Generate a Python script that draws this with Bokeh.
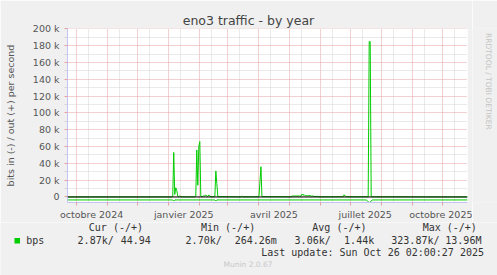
import math
import datetime as dt
from bokeh.plotting import figure
from bokeh.layouts import column, row
from bokeh.models import FixedTicker, Span, Range1d
from bokeh.core.properties import value
from bokeh.embed import file_html
from bokeh.resources import INLINE

# ---------------- data ----------------
out_dates = ["2024-09-22", "2025-01-04", "2025-01-05", "2025-01-06", "2025-01-07",
             "2025-01-08", "2025-01-09", "2025-01-10", "2025-01-11", "2025-01-12",
             "2025-01-13", "2025-01-27", "2025-01-28", "2025-01-29", "2025-01-30",
             "2025-01-31", "2025-02-01", "2025-02-02", "2025-02-03", "2025-02-05",
             "2025-02-06", "2025-02-07", "2025-02-08", "2025-02-09", "2025-02-10",
             "2025-02-11", "2025-02-13", "2025-02-16", "2025-02-17", "2025-02-18",
             "2025-02-19", "2025-03-14", "2025-03-15", "2025-03-16", "2025-04-01",
             "2025-04-03", "2025-04-04", "2025-05-03", "2025-05-04", "2025-05-11",
             "2025-05-13", "2025-05-14", "2025-05-15", "2025-05-16", "2025-05-17",
             "2025-05-19", "2025-05-20", "2025-05-21", "2025-05-23", "2025-05-25",
             "2025-05-27", "2025-05-29", "2025-05-30", "2025-06-24", "2025-06-25",
             "2025-06-26", "2025-06-27", "2025-07-19", "2025-07-20", "2025-07-21",
             "2025-07-22", "2025-10-26"]
out_kbps = [0.05, 0.1, 0.5, 53, 3,
            11, 8, 1, 0.3, 1.5,
            0.2, 0.2, 1, 56, 14,
            60, 66, 1, 0.3, 1.5,
            1.5, 2.5, 1, 0.8, 2.5,
            1, 0.2, 0.5, 31, 16,
            0.5, 0.2, 1.2, 0.2, 0.3,
            36, 0.5, 0.3, 1.2, 1.2,
            1.0, 3.5, 2.0, 3.0, 1.5,
            1.5, 1.2, 2.0, 1.0, 1.2,
            0.3, 1.0, 0.3, 0.3, 2.7,
            1.2, 0.3, 0.3, 185, 185,
            0.3, 0.05]

in_dates = ["2024-09-22", "2025-01-05", "2025-01-06", "2025-01-07", "2025-02-16",
            "2025-02-17", "2025-02-18", "2025-07-17", "2025-07-20", "2025-07-21",
            "2025-07-23", "2025-10-26"]
in_kbps = [3.5, 3.5, 4.8, 3.5, 3.5,
           4.8, 3.5, 3.5, 6.6, 6.2,
           3.5, 3.5]

y_tick_values = [0, 20000, 40000, 60000, 80000, 100000, 120000, 140000, 160000, 180000, 200000]
y_tick_labels = ["0", "20 k", "40 k", "60 k", "80 k", "100 k", "120 k", "140 k", "160 k", "180 k", "200 k"]

x_label_dates = ["2024-10-16", "2025-01-16", "2025-04-16", "2025-07-16", "2025-10-16"]
x_labels = ["octobre 2024", "janvier 2025", "avril 2025", "juillet 2025", "octobre 2025"]

series_name = "bps"
legend_headers = ["Cur (-/+)", "Min (-/+)", "Avg (-/+)", "Max (-/+)"]
# each stat cell: (in part, out part)
legend_in = ["2.87k/", "2.70k/", "3.06k/", "323.87k/"]
legend_out = ["44.94", "264.26m", "1.44k", "13.96M"]
last_update = "Last update: Sun Oct 26 02:00:27 2025"
title_text = "eno3 traffic - by year"
y_label = "bits in (-) / out (+) per second"
side_text = "RRDTOOL / TOBI OETIKER"
footer_text = "Munin 2.0.67"

# ---------------- helpers ----------------
EPOCH = dt.datetime(1970, 1, 1)


def to_dt(s):
    return dt.datetime.fromisoformat(s)


def to_ms(d):
    return (d - EPOCH).total_seconds() * 1000.0


x_start = dt.datetime(2024, 9, 22, 0, 0)
x_end = dt.datetime(2025, 10, 26, 2, 0)

month_starts = []
mid_lines = []
yy, mm = 2024, 10
while (yy, mm) <= (2025, 10):
    month_starts.append(to_ms(dt.datetime(yy, mm, 1)))
    mid_lines.append(to_ms(dt.datetime(yy, mm, 13)))
    mm += 1
    if mm > 12:
        mm = 1
        yy += 1

label_ms = [to_ms(to_dt(s)) for s in x_label_dates]

BG = "#f0f0f0"
GREEN = "#00cc00"
LAV = "#c4c4f4"
RED_GRID = "#e4a0a0"
GRAY_GRID = "#d4d4d4"
TXT = "#555555"

MAIN_H = 222

# ---------------- main chart ----------------
p = figure(width=472, height=MAIN_H, x_axis_type="datetime", output_backend="svg",
           toolbar_location=None, title=title_text,
           x_range=Range1d(x_start, x_end), y_range=Range1d(-6548, 200595),
           min_border_left=67, min_border_right=5, min_border_top=28,
           min_border_bottom=MAIN_H - 202)
p.border_fill_color = BG
p.background_fill_color = "white"
p.outline_line_color = None

p.title.align = "left"
p.title.offset = 115.2
p.title.standoff = 1
p.title.vertical_align = "bottom"
p.title.text_font = "DejaVu Sans"
p.title.text_font_size = "12.5px"
p.title.text_font_style = "normal"
p.title.text_color = "#444444"

# y axis
yax = p.yaxis[0]
y_minor = [(a + b) / 2 for a, b in zip(y_tick_values[:-1], y_tick_values[1:])]
yax.ticker = FixedTicker(ticks=y_tick_values, minor_ticks=y_minor)
yax.major_label_overrides = dict(zip(y_tick_values, y_tick_labels))
yax.major_label_text_font = "DejaVu Sans"
yax.major_label_text_font_size = "9.5px"
yax.major_label_text_color = TXT
yax.major_label_standoff = 5
yax.axis_line_color = LAV
yax.major_tick_line_color = RED_GRID
yax.major_tick_out = 3
yax.major_tick_in = 0
yax.minor_tick_line_color = GRAY_GRID
yax.minor_tick_out = 3
yax.minor_tick_in = 0
yax.axis_label = y_label
yax.axis_label_text_font = "DejaVu Sans"
yax.axis_label_text_font_size = "9.5px"
yax.axis_label_text_font_style = "normal"
yax.axis_label_text_color = TXT
yax.axis_label_standoff = 14

p.ygrid.grid_line_color = RED_GRID
p.ygrid.grid_line_dash = "1 1"
p.ygrid.minor_grid_line_color = GRAY_GRID
p.ygrid.minor_grid_line_dash = "1 1"

# x axis
xax = p.xaxis[0]
xax.ticker = FixedTicker(ticks=label_ms, minor_ticks=month_starts)
xax.major_label_overrides = dict(zip(label_ms, x_labels))
xax.major_label_text_font = "DejaVu Sans"
xax.major_label_text_font_size = "9.5px"
xax.major_label_text_color = TXT
xax.major_label_standoff = 3
xax.major_tick_line_color = None
xax.major_tick_out = 0
xax.major_tick_in = 0
xax.minor_tick_line_color = RED_GRID
xax.minor_tick_out = 3
xax.minor_tick_in = 0
xax.axis_line_color = LAV

p.xgrid.ticker = FixedTicker(ticks=month_starts, minor_ticks=mid_lines)
p.xgrid.grid_line_color = RED_GRID
p.xgrid.grid_line_dash = "1 1"
p.xgrid.minor_grid_line_color = GRAY_GRID
p.xgrid.minor_grid_line_dash = "1 1"

# data lines
p.line([to_dt(s) for s in out_dates], [v * 1000 for v in out_kbps],
       line_color=GREEN, line_width=1)
p.line([to_dt(s) for s in in_dates], [-v * 1000 for v in in_kbps],
       line_color=GREEN, line_width=1)
p.add_layout(Span(location=0, dimension="width", line_color="black", line_width=1))


def blank_fig(w, h):
    f = figure(width=w, height=h, x_range=Range1d(0, w), y_range=Range1d(h, 0),
               output_backend="svg", toolbar_location=None, title=None,
               x_axis_location=None, y_axis_location=None, min_border=0)
    f.grid.visible = False
    f.background_fill_color = BG
    f.border_fill_color = BG
    f.outline_line_color = None
    return f


# ---------------- right strip (vertical credit) ----------------
side = blank_fig(25, MAIN_H)
side.text(x=[15.6], y=[5.8], text=[side_text], text_font=value("DejaVu Sans"),
          text_font_size="7.5px", text_color="#c4c4c4", text_align="left",
          text_baseline="middle", angle=-math.pi / 2)

# ---------------- legend strip ----------------
LEG_H = 275 - MAIN_H
leg = blank_fig(497, LEG_H)
MONO = value("DejaVu Sans Mono")
header_x = [88.3, 200.5, 311.8, 422.2]
in_x = [77.1, 185.1, 294.1, 390.8]
out_x = [120.2, 234.2, 343.6, 444.8]
leg.text(x=header_x, y=[226.7 - MAIN_H] * len(legend_headers), text=legend_headers,
         text_font=MONO, text_font_size="10px", text_color="#333333", text_baseline="middle")
leg.text(x=[25.8] + in_x + out_x, y=[239.5 - MAIN_H] * (1 + 2 * len(legend_in)),
         text=[series_name] + legend_in + legend_out, text_font=MONO,
         text_font_size="10px", text_color="#333333", text_baseline="middle")
leg.text(x=[260.7], y=[251.7 - MAIN_H], text=[last_update], text_font=MONO,
         text_font_size="10px", text_color="#333333", text_baseline="middle")
leg.text(x=[223], y=[263.5 - MAIN_H], text=[footer_text], text_font=value("DejaVu Sans"),
         text_font_size="7.5px", text_color="#c8c8c8", text_baseline="middle")
leg.quad(left=[14], right=[19.5], top=[237.5 - MAIN_H], bottom=[243 - MAIN_H],
         fill_color=GREEN, line_color=None)

layout = column(row(p, side, spacing=0), leg, spacing=0)
open("out.html", "w").write(file_html(layout, INLINE))
